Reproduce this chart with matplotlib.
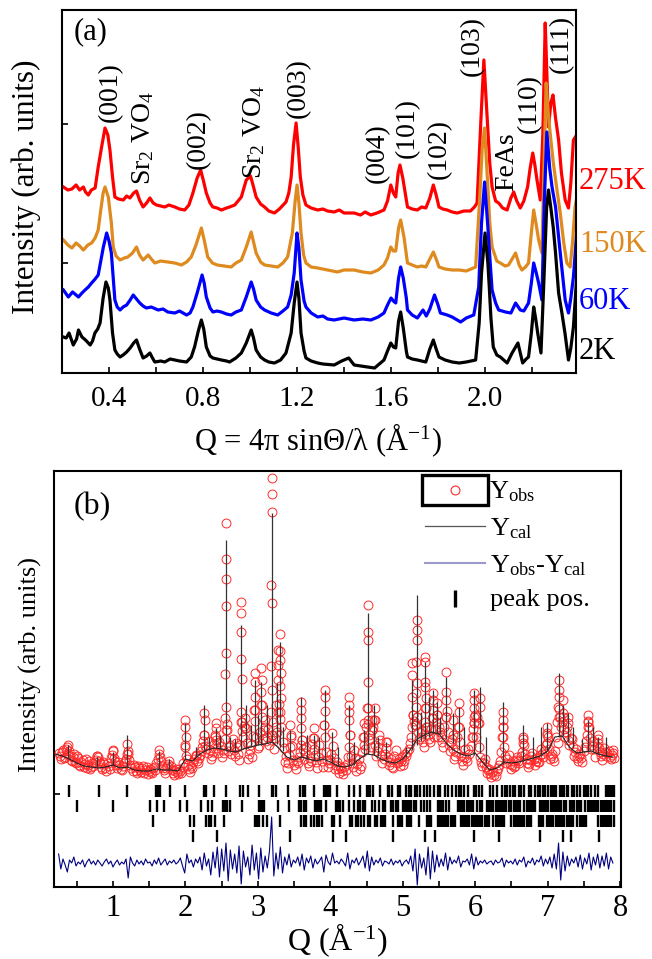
import numpy as np
import matplotlib.pyplot as plt
from matplotlib.patches import Rectangle
from matplotlib.ticker import MultipleLocator, FormatStrFormatter

plt.rcParams['font.family'] = ['Liberation Serif', 'DejaVu Serif']
plt.rcParams['mathtext.fontset'] = 'custom'
plt.rcParams['mathtext.rm'] = 'Liberation Serif'
plt.rcParams['mathtext.it'] = 'Liberation Serif:italic'
plt.rcParams['mathtext.default'] = 'regular'

# ---------------- panel (a): temperature dependent patterns ----------------
trace_275K = [
    (0.206, 186), (0.225, 183), (0.242, 184), (0.26, 188), (0.275, 183), (0.291, 186), (0.30, 181),
    (0.312, 178), (0.325, 183), (0.341, 185), (0.354, 206), (0.37, 228), (0.383, 245), (0.395, 238),
    (0.404, 223), (0.415, 196), (0.425, 176), (0.44, 174), (0.461, 173), (0.475, 177), (0.489, 175),
    (0.505, 180), (0.517, 182), (0.53, 173), (0.545, 166), (0.56, 170), (0.574, 175), (0.588, 170),
    (0.602, 168), (0.62, 167), (0.637, 166), (0.655, 168), (0.68, 166), (0.70, 164), (0.722, 163),
    (0.74, 168), (0.757, 180), (0.775, 195), (0.79, 203), (0.802, 192), (0.814, 180), (0.83, 170),
    (0.842, 166), (0.86, 165), (0.878, 163), (0.90, 165), (0.913, 166), (0.935, 168), (0.963, 176),
    (0.984, 193), (1.002, 197), (1.015, 186), (1.026, 176), (1.045, 169), (1.062, 166), (1.08, 162),
    (1.104, 160), (1.125, 164), (1.153, 171), (1.165, 180), (1.175, 196), (1.185, 228), (1.196, 250),
    (1.205, 226), (1.214, 196), (1.225, 178), (1.238, 168), (1.26, 165), (1.288, 163), (1.31, 164),
    (1.33, 162), (1.358, 161), (1.38, 163), (1.40, 160), (1.443, 160), (1.47, 158), (1.49, 161),
    (1.514, 158), (1.54, 160), (1.57, 163), (1.585, 172), (1.599, 188), (1.61, 180), (1.62, 176),
    (1.63, 200), (1.638, 208), (1.65, 195), (1.67, 166), (1.69, 164), (1.712, 163), (1.73, 166),
    (1.748, 165), (1.765, 175), (1.78, 188), (1.792, 178), (1.804, 166), (1.82, 164), (1.839, 163),
    (1.86, 161), (1.882, 160), (1.91, 162), (1.938, 162), (1.955, 166), (1.966, 170), (1.983, 256),
    (1.995, 313), (2.009, 256), (2.02, 210), (2.03, 186), (2.045, 172), (2.058, 170), (2.075, 165),
    (2.094, 163), (2.11, 175), (2.122, 181), (2.135, 172), (2.15, 165), (2.165, 172), (2.181, 186),
    (2.192, 205), (2.203, 220), (2.212, 208), (2.221, 193), (2.235, 173), (2.246, 240), (2.256, 350),
    (2.263, 300), (2.270, 246), (2.28, 270), (2.289, 278), (2.30, 255), (2.313, 233), (2.325, 200),
    (2.341, 173), (2.355, 165), (2.365, 190), (2.376, 233), (2.39, 238)]

trace_150K = [
    (0.206, 133), (0.225, 128), (0.242, 125), (0.26, 130), (0.275, 127), (0.291, 123), (0.31, 128),
    (0.326, 130), (0.341, 135), (0.354, 143), (0.365, 163), (0.375, 180), (0.383, 186), (0.397, 176),
    (0.41, 150), (0.418, 126), (0.43, 117), (0.447, 113), (0.465, 115), (0.48, 116), (0.50, 120),
    (0.517, 126), (0.53, 118), (0.545, 113), (0.567, 118), (0.58, 114), (0.595, 110), (0.62, 112),
    (0.65, 111), (0.68, 110), (0.708, 108), (0.73, 111), (0.75, 116), (0.77, 128), (0.793, 145),
    (0.805, 133), (0.82, 116), (0.84, 110), (0.86, 108), (0.89, 107), (0.92, 106), (0.94, 110),
    (0.963, 113), (0.984, 126), (1.005, 141), (1.015, 131), (1.026, 120), (1.045, 111), (1.062, 108),
    (1.09, 107), (1.118, 106), (1.14, 110), (1.16, 116), (1.18, 140), (1.192, 172), (1.20, 188),
    (1.208, 170), (1.217, 140), (1.228, 118), (1.238, 110), (1.26, 106), (1.288, 105), (1.33, 103),
    (1.372, 101), (1.40, 103), (1.443, 103), (1.48, 101), (1.514, 100), (1.545, 103), (1.57, 108),
    (1.585, 115), (1.599, 126), (1.61, 122), (1.62, 122), (1.632, 145), (1.641, 153), (1.655, 136),
    (1.67, 110), (1.69, 108), (1.712, 106), (1.73, 107), (1.748, 106), (1.765, 114), (1.78, 121),
    (1.792, 114), (1.804, 106), (1.83, 104), (1.86, 103), (1.89, 103), (1.92, 102), (1.94, 104),
    (1.96, 106), (1.977, 173), (1.988, 225), (1.998, 245), (2.012, 186), (2.02, 150), (2.03, 126),
    (2.05, 112), (2.065, 110), (2.085, 107), (2.10, 108), (2.115, 114), (2.13, 120), (2.145, 108),
    (2.157, 103), (2.172, 106), (2.185, 110), (2.197, 140), (2.207, 163), (2.218, 148), (2.228, 133),
    (2.242, 120), (2.25, 200), (2.26, 290), (2.268, 262), (2.277, 240), (2.29, 211), (2.305, 185),
    (2.32, 160), (2.335, 130), (2.348, 110), (2.362, 106), (2.372, 130), (2.383, 166), (2.39, 175)]

trace_60K = [
    (0.206, 83), (0.227, 76), (0.245, 81), (0.27, 76), (0.285, 80), (0.298, 83), (0.312, 86),
    (0.326, 90), (0.341, 94), (0.354, 98), (0.365, 112), (0.376, 126), (0.39, 140), (0.40, 132),
    (0.41, 120), (0.425, 73), (0.435, 66), (0.447, 63), (0.46, 66), (0.475, 68), (0.49, 73),
    (0.503, 78), (0.517, 74), (0.531, 70), (0.545, 67), (0.559, 65), (0.58, 66), (0.609, 63),
    (0.63, 64), (0.65, 61), (0.68, 60), (0.70, 62), (0.73, 58), (0.745, 60), (0.757, 66), (0.775, 80),
    (0.796, 98), (0.805, 90), (0.814, 76), (0.83, 65), (0.842, 61), (0.86, 62), (0.878, 61), (0.90, 59),
    (0.92, 58), (0.94, 61), (0.963, 63), (0.984, 76), (1.005, 91), (1.015, 84), (1.026, 73),
    (1.045, 66), (1.062, 63), (1.09, 60), (1.118, 58), (1.14, 62), (1.16, 66), (1.175, 78),
    (1.188, 100), (1.20, 140), (1.208, 125), (1.217, 93), (1.23, 72), (1.238, 66), (1.26, 60),
    (1.288, 56), (1.31, 57), (1.33, 54), (1.358, 53), (1.40, 55), (1.443, 53), (1.48, 54), (1.514, 53),
    (1.545, 56), (1.57, 60), (1.585, 68), (1.60, 75), (1.61, 72), (1.62, 70), (1.632, 95), (1.641, 106),
    (1.652, 95), (1.665, 75), (1.67, 63), (1.69, 58), (1.712, 55), (1.736, 63), (1.75, 57), (1.765, 64),
    (1.785, 78), (1.80, 68), (1.81, 60), (1.839, 58), (1.86, 56), (1.896, 51), (1.92, 55), (1.952, 58),
    (1.973, 86), (1.985, 150), (1.998, 191), (2.012, 146), (2.022, 110), (2.03, 83), (2.045, 70),
    (2.058, 63), (2.087, 61), (2.11, 60), (2.13, 70), (2.15, 63), (2.165, 62), (2.185, 70), (2.197, 90),
    (2.207, 110), (2.218, 100), (2.228, 90), (2.242, 73), (2.252, 170), (2.263, 241), (2.275, 205),
    (2.285, 186), (2.30, 166), (2.32, 120), (2.341, 73), (2.355, 60), (2.365, 75), (2.376, 96),
    (2.39, 140)]

trace_2K = [
    (0.206, 36), (0.218, 35), (0.23, 40), (0.248, 28), (0.262, 34), (0.27, 43), (0.285, 36), (0.30, 33),
    (0.32, 28), (0.33, 32), (0.34, 40), (0.352, 44), (0.362, 50), (0.375, 75), (0.387, 91), (0.397, 85),
    (0.404, 73), (0.415, 40), (0.425, 23), (0.435, 19), (0.447, 16), (0.46, 18), (0.475, 21), (0.49, 25),
    (0.505, 30), (0.517, 33), (0.53, 24), (0.545, 15), (0.56, 17), (0.574, 20), (0.585, 15), (0.595, 11),
    (0.62, 12), (0.637, 11), (0.66, 14), (0.68, 13), (0.70, 12), (0.73, 11), (0.75, 16), (0.764, 26),
    (0.78, 42), (0.793, 53), (0.803, 44), (0.814, 26), (0.83, 17), (0.842, 15), (0.86, 14), (0.878, 13),
    (0.90, 12), (0.913, 11), (0.94, 15), (0.963, 20), (0.984, 30), (1.005, 43), (1.015, 35), (1.026, 23),
    (1.045, 16), (1.062, 13), (1.08, 11), (1.104, 10), (1.13, 13), (1.153, 20), (1.175, 40), (1.188, 70),
    (1.20, 91), (1.208, 75), (1.217, 40), (1.23, 22), (1.238, 15), (1.26, 12), (1.288, 10), (1.31, 9),
    (1.358, 8), (1.39, 12), (1.42, 15), (1.443, 8), (1.47, 7), (1.50, 6), (1.53, 5), (1.55, 9),
    (1.57, 13), (1.585, 22), (1.599, 30), (1.61, 26), (1.62, 25), (1.632, 52), (1.641, 61), (1.652, 45),
    (1.665, 22), (1.67, 16), (1.69, 14), (1.712, 13), (1.73, 12), (1.748, 11), (1.765, 24), (1.78, 33),
    (1.792, 24), (1.804, 16), (1.83, 13), (1.86, 11), (1.89, 10), (1.92, 11), (1.96, 13), (1.975, 50),
    (1.985, 100), (2.0, 140), (2.012, 110), (2.018, 86), (2.025, 55), (2.035, 26), (2.05, 18),
    (2.065, 16), (2.094, 10), (2.115, 20), (2.13, 26), (2.14, 30), (2.15, 20), (2.16, 10), (2.175, 14),
    (2.185, 16), (2.197, 40), (2.207, 66), (2.215, 55), (2.224, 40), (2.238, 20), (2.25, 90),
    (2.262, 165), (2.27, 183), (2.28, 165), (2.29, 146), (2.30, 120), (2.313, 80), (2.327, 60),
    (2.34, 40), (2.355, 13), (2.365, 25), (2.376, 46), (2.39, 96)]

temp_labels = ['275K', '150K', '60K', '2K']
temp_colors = ['#ff0000', '#de8a1e', '#0000ff', '#000000']
temp_label_y = [192, 129, 72, 22]

peak_labels = ['(001)', 'Sr$_2$ VO$_4$', '(002)', 'Sr$_2$ VO$_4$', '(003)', '(004)', '(101)',
               '(102)', '(103)', 'FeAs', '(110)', '(111)']
peak_label_q = [0.405, 0.546, 0.779, 1.016, 1.207, 1.542, 1.669, 1.805, 1.945, 2.094, 2.187, 2.323]
peak_label_y = [281, 235, 234, 241, 285, 220, 245, 224, 327, 211, 270, 329]

# ---------------- panel (b): refinement of the 2K pattern ----------------
# observed counts, 0.03 step from Q = 0.25
obs_band = [
    134, 128, 137, 130, 140, 131, 126, 133, 124, 129, 121, 127, 123, 119, 126, 120,
    121, 127, 130, 124, 118, 123, 116, 121, 129, 136, 126, 119, 122, 117, 124, 128,
    133, 122, 116, 120, 114, 119, 115, 121, 117, 113, 118, 114, 120, 124, 133, 126,
    119, 114, 121, 126, 117, 112, 118, 113, 116, 124, 140, 128, 118, 121, 125, 131,
    124, 132, 140, 152, 138, 146, 128, 135, 150, 139, 145, 130, 134, 157, 136, 142,
    148, 131, 140, 127, 165, 150, 159, 128, 137, 130, 177, 150, 141, 182, 148, 160,
    150, 142, 152, 138, 160, 175, 168, 145, 125, 119, 132, 150, 127, 118, 124, 135,
    147, 128, 140, 121, 126, 149, 132, 119, 142, 126, 162, 135, 120, 127, 141, 118,
    125, 114, 119, 113, 117, 130, 152, 124, 137, 116, 128, 121, 150, 138, 179, 147,
    157, 167, 131, 140, 147, 124, 133, 145, 122, 128, 119, 137, 125, 121, 130, 126,
    131, 138, 150, 172, 162, 170, 148, 156, 140, 179, 152, 145, 169, 158, 172, 160,
    150, 140, 170, 155, 136, 148, 128, 135, 160, 131, 122, 138, 126, 133, 150, 164,
    150, 164, 130, 121, 128, 114, 118, 110, 116, 111, 119, 126, 150, 140, 124, 132,
    118, 126, 121, 130, 124, 135, 142, 128, 120, 127, 134, 122, 129, 125, 138, 130,
    142, 150, 128, 133, 126, 150, 178, 160, 170, 150, 160, 142, 148, 131, 138, 126,
    133, 125, 140, 152, 160, 138, 146, 130, 148, 135, 127, 139, 131, 136, 128, 134]

# observed counts at the intermediate points, 0.03 step from Q = 0.265
obs_band_mid = [
    131, 135, 129, 138, 133, 127, 130, 125, 131, 122, 125, 120, 128, 122, 118, 124,
    125, 131, 126, 120, 125, 119, 124, 118, 132, 129, 122, 125, 118, 121, 126, 133,
    127, 119, 122, 116, 121, 117, 119, 114, 120, 116, 115, 119, 117, 128, 130, 121,
    117, 119, 123, 121, 114, 116, 115, 118, 114, 120, 131, 122, 115, 119, 128, 126,
    129, 136, 146, 141, 134, 137, 131, 143, 147, 134, 141, 137, 148, 163, 140, 133,
    137, 144, 133, 142, 156, 161, 144, 133, 142, 151, 166, 139, 155, 170, 157, 146,
    158, 147, 165, 149, 155, 183, 160, 139, 131, 124, 140, 141, 122, 126, 130, 142,
    138, 134, 124, 129, 143, 138, 125, 130, 134, 120, 150, 127, 124, 133, 129, 122,
    118, 121, 116, 120, 123, 140, 131, 120, 129, 123, 118, 135, 142, 160, 163, 140,
    160, 142, 136, 152, 131, 128, 139, 130, 125, 120, 131, 124, 128, 126, 122, 133,
    135, 144, 160, 166, 180, 155, 150, 145, 165, 160, 148, 158, 150, 165, 150, 155,
    145, 160, 176, 142, 145, 138, 131, 150, 145, 126, 130, 129, 138, 141, 158, 172,
    170, 140, 125, 124, 120, 117, 113, 115, 112, 116, 122, 135, 160, 131, 128, 123,
    122, 120, 127, 126, 131, 148, 133, 124, 123, 131, 128, 126, 125, 132, 133, 136,
    152, 138, 131, 129, 136, 165, 170, 165, 158, 155, 147, 149, 140, 135, 129, 131,
    129, 136, 146, 166, 149, 142, 138, 141, 139, 131, 133, 135, 134, 130, 132, 129]

# obs - cal, same grid as obs_band
diff_band = [
    33, 18, 28, 22, 15, 27, 24, 30, 21, 25, 23, 27, 20, 25, 28, 23,
    26, 22, 27, 24, 21, 25, 28, 23, 26, 20, 24, 27, 22, 25, 23, 28,
    9, 30, 24, 21, 27, 23, 26, 22, 28, 24, 25, 21, 27, 23, 29, 22,
    25, 28, 22, 26, 24, 27, 23, 25, 29, 21, 14, 33, 24, 27, 20, 28,
    24, 30, 17, 34, 21, 28, 12, 35, 19, 40, 10, 38, 16, 44, 6, 37,
    18, 33, 14, 41, 3, 36, 20, 30, 12, 42, 17, 34, 8, 39, 15, 31,
    19, 36, 70, 11, 34, 18, 40, 14, 30, 22, 33, 20, 27, 24, 30, 21,
    33, 17, 29, 24, 31, 19, 28, 23, 26, 30, 15, 32, 25, 22, 34, 24,
    26, 23, 28, 25, 21, 34, 18, 27, 24, 29, 22, 26, 31, 19, 36, 16,
    30, 22, 27, 24, 29, 21, 26, 25, 23, 28, 22, 26, 24, 27, 21, 25,
    27, 23, 31, 16, 38, 2, 33, 19, 29, 12, 40, 8, 36, 15, 32, 20,
    28, 21, 34, 17, 30, 23, 27, 24, 31, 20, 26, 25, 28, 22, 33, 18,
    30, 22, 26, 24, 27, 23, 25, 26, 22, 27, 24, 25, 29, 20, 27, 24,
    26, 23, 28, 22, 27, 25, 30, 20, 26, 24, 29, 22, 27, 25, 31, 21,
    28, 23, 30, 19, 33, 18, 44, 7, 35, 16, 31, 21, 28, 24, 30, 20,
    32, 18, 29, 23, 34, 17, 30, 22, 33, 19, 31, 21, 34, 18, 30, 24]

# extra observed points across the sharp reflections
obs_peak_q = [
    0.38, 0.39, 0.78, 1.00, 1.20, 1.21, 1.63, 1.995, 2.0, 2.005, 1.99, 2.14,
    2.26, 2.265, 2.255, 2.42, 2.425, 2.415,
    2.555, 2.558, 2.56, 2.556, 2.562, 2.553, 2.565, 2.55, 2.57,
    2.77, 2.768, 2.772, 2.766, 2.774, 2.764, 2.778, 2.82, 2.825,
    2.96, 2.962, 2.958, 2.965, 3.05, 3.052, 3.048, 3.055, 3.10,
    3.19, 3.19, 3.19, 3.188, 3.192, 3.186, 3.194, 3.184, 3.197, 3.25,
    3.28, 3.282, 3.278, 3.31, 3.312, 3.308, 3.314, 3.306, 3.316, 3.304,
    3.45, 3.452, 3.60, 3.60, 3.602, 3.598, 3.605, 3.77, 3.772,
    3.92, 3.92, 3.922, 3.918, 4.02, 4.26, 4.26, 4.262, 4.258, 4.265,
    4.46, 4.462, 4.52, 4.52, 4.522, 4.518, 4.524, 4.516, 4.527,
    4.58, 4.582, 4.61, 4.612, 4.77,
    5.13, 5.132, 5.128, 5.135, 5.19, 5.19, 5.192, 5.188, 5.194, 5.186, 5.196, 5.184,
    5.31, 5.31, 5.312, 5.308, 5.314, 5.306, 5.316, 5.42, 5.42, 5.422, 5.418, 5.47, 5.472,
    5.60, 5.60, 5.602, 5.598, 5.69, 5.692, 5.77, 5.772, 5.768,
    5.98, 5.98, 5.982, 5.978, 5.985, 5.975, 6.06, 6.062, 6.058,
    6.38, 6.38, 6.382, 6.378, 6.66, 6.662, 6.99, 6.99, 6.992,
    7.15, 7.15, 7.152, 7.148, 7.154, 7.146, 7.21, 7.212, 7.28, 7.282,
    7.56, 7.56, 7.562, 7.69, 7.692, 7.90]
obs_peak_y = [
    142, 136, 131, 137, 143, 136, 137, 167, 160, 150, 142, 132,
    174, 167, 152, 164, 159, 152,
    364, 328, 308, 281, 234, 213, 180, 169, 157,
    285, 274, 255, 228, 208, 175, 165, 169, 159,
    214, 205, 190, 177, 219, 207, 195, 182, 167,
    409, 393, 375, 302, 284, 221, 197, 175, 152, 182,
    237, 222, 207, 253, 236, 227, 214, 201, 189, 175,
    162, 152, 185, 177, 169, 159, 147, 159, 149,
    197, 190, 176, 162, 154, 190, 182, 175, 167, 152,
    164, 150, 282, 255, 247, 205, 179, 167, 152,
    167, 157, 179, 167, 145,
    224, 212, 190, 172, 267, 257, 247, 225, 204, 194, 170, 162,
    230, 225, 205, 200, 189, 179, 160, 194, 187, 177, 169, 184, 172,
    215, 195, 187, 170, 167, 152, 184, 175, 160,
    194, 187, 179, 170, 164, 150, 189, 180, 164,
    175, 167, 160, 150, 150, 144, 160, 154, 144,
    207, 197, 190, 180, 170, 144, 187, 174, 170, 164,
    172, 165, 160, 152, 144, 137]

# calculated background, 0.1 step from Q = 0.2
cal_background = [
    133, 131, 128, 124, 121, 120, 119, 120,
    122, 119, 120, 117, 116, 116, 118, 117, 117, 116,
    128, 126, 133, 137, 139, 138, 136, 135, 138, 140,
    142, 143, 145, 138, 130, 127, 130, 128, 126, 128,
    125, 121, 120, 122, 128, 133, 132, 128, 125, 124,
    128, 137, 148, 152, 155, 153, 144, 137, 133, 131,
    134, 125, 117, 119, 125, 124, 125, 127, 129, 131,
    136, 150, 151, 140, 134, 135, 136, 133, 131, 130]

# calculated reflection profiles: position, top, foot
cal_peak_q = [0.38, 0.78, 1.00, 1.20, 1.63, 1.78, 2.00, 2.14, 2.26, 2.33, 2.42, 2.48, 2.56, 2.62,
              2.68, 2.77, 2.83, 2.90, 2.96, 3.00, 3.05, 3.13, 3.19, 3.27, 3.31, 3.35, 3.45, 3.60,
              3.68, 3.77, 3.85, 3.92, 4.02, 4.10, 4.26, 4.32, 4.46, 4.52, 4.60, 4.66, 4.77, 5.05,
              5.13, 5.19, 5.25, 5.31, 5.36, 5.42, 5.47, 5.52, 5.60, 5.69, 5.77, 5.85, 5.98, 6.06,
              6.15, 6.38, 6.66, 6.80, 6.91, 6.99, 7.15, 7.21, 7.28, 7.35, 7.47, 7.56, 7.63, 7.69,
              7.80]
cal_peak_top = [142, 130, 135, 152, 136, 128, 164, 140, 182, 150, 159, 152, 347, 150,
                148, 262, 182, 162, 207, 172, 205, 182, 374, 204, 245, 160, 157, 190,
                152, 152, 150, 197, 155, 140, 182, 145, 157, 274, 182, 150, 145, 140,
                207, 292, 175, 225, 190, 197, 185, 170, 210, 174, 180, 160, 197, 200,
                150, 185, 162, 150, 160, 164, 214, 182, 174, 160, 148, 167, 160, 150,
                150]
cal_peak_foot = [128, 120, 122, 120, 117, 117, 128, 131, 137, 138, 139, 138, 136, 136,
                 135, 137, 138, 140, 141, 142, 142, 144, 144, 143, 140, 136, 128, 129,
                 128, 127, 127, 128, 125, 121, 121, 122, 131, 133, 132, 131, 128, 130,
                 137, 142, 146, 148, 150, 153, 154, 153, 148, 144, 137, 134, 132, 134,
                 124, 123, 126, 128, 131, 136, 150, 151, 145, 140, 135, 136, 135, 133,
                 131]

# reflection markers, one row per phase
refl_main = [0.39, 0.81, 1.20, 1.60, 1.62, 1.65, 1.79, 1.99, 2.26, 2.28, 2.39, 2.56, 2.76, 2.80,
             2.87, 3.02, 3.19, 3.21, 3.25, 3.41, 3.58, 3.62, 3.65, 3.77, 3.91, 3.94, 3.97, 4.00,
             4.09, 4.26, 4.32, 4.41, 4.51, 4.53, 4.55, 4.59, 4.68, 4.79, 4.81, 4.85, 4.93, 4.96,
             5.05, 5.08, 5.12, 5.17, 5.20, 5.24, 5.29, 5.33, 5.38, 5.43, 5.48, 5.52, 5.58, 5.63,
             5.68, 5.74, 5.78, 5.81, 5.84, 5.90, 5.98, 6.01, 6.05, 6.09, 6.21, 6.25, 6.30, 6.37,
             6.41, 6.44, 6.48, 6.52, 6.55, 6.60, 6.63, 6.67, 6.74, 6.77, 6.83, 6.86, 6.90, 6.93,
             6.96, 7.01, 7.04, 7.07, 7.10, 7.12, 7.17, 7.20, 7.23, 7.26, 7.28, 7.34, 7.37, 7.40,
             7.44, 7.50, 7.53, 7.56, 7.60, 7.66, 7.70, 7.80, 7.83, 7.86, 7.89, 7.92]
refl_second = [0.50, 1.00, 1.51, 1.61, 1.70, 1.93, 2.02, 2.22, 2.31, 2.36, 2.52, 2.55, 2.58, 2.62,
               2.78, 3.02, 3.04, 3.06, 3.08, 3.28, 3.43, 3.57, 3.60, 3.63, 3.67, 3.79, 3.81, 3.84,
               3.87, 3.94, 4.08, 4.11, 4.14, 4.18, 4.26, 4.32, 4.38, 4.41, 4.45, 4.48, 4.58, 4.61,
               4.67, 4.73, 4.76, 4.84, 4.86, 4.90, 4.93, 5.00, 5.03, 5.06, 5.09, 5.12, 5.15, 5.18,
               5.25, 5.29, 5.34, 5.37, 5.48, 5.51, 5.54, 5.56, 5.60, 5.64, 5.76, 5.79, 5.82, 5.85,
               5.88, 5.91, 5.94, 5.97, 6.02, 6.06, 6.10, 6.16, 6.19, 6.22, 6.25, 6.28, 6.31, 6.34,
               6.37, 6.40, 6.43, 6.47, 6.50, 6.53, 6.56, 6.59, 6.62, 6.68, 6.71, 6.74, 6.77, 6.80,
               6.83, 6.89, 6.92, 6.95, 6.98, 7.01, 7.04, 7.07, 7.10, 7.13, 7.16, 7.19, 7.22, 7.25,
               7.31, 7.34, 7.37, 7.40, 7.43, 7.46, 7.52, 7.55, 7.58, 7.61, 7.64, 7.67, 7.70, 7.73,
               7.76, 7.79, 7.82, 7.85, 7.88, 7.91]
refl_third = [1.55, 2.07, 2.12, 2.29, 2.32, 2.35, 2.41, 2.53, 2.96, 2.99, 3.02, 3.07, 3.12, 3.31,
              3.60, 3.63, 3.66, 3.74, 3.78, 3.81, 3.85, 3.88, 4.02, 4.05, 4.13, 4.27, 4.30, 4.35,
              4.38, 4.43, 4.47, 4.52, 4.55, 4.61, 4.64, 4.70, 4.73, 4.76, 4.86, 4.93, 4.96, 4.99,
              5.06, 5.09, 5.12, 5.22, 5.33, 5.36, 5.39, 5.48, 5.51, 5.54, 5.57, 5.60, 5.63, 5.66,
              5.69, 5.72, 5.80, 5.83, 5.86, 5.89, 5.92, 5.95, 5.98, 6.01, 6.04, 6.07, 6.10, 6.13,
              6.16, 6.19, 6.25, 6.28, 6.31, 6.34, 6.37, 6.40, 6.50, 6.53, 6.56, 6.59, 6.62, 6.65,
              6.68, 6.71, 6.74, 6.77, 6.88, 6.91, 6.94, 6.99, 7.02, 7.05, 7.08, 7.11, 7.14, 7.17,
              7.20, 7.23, 7.26, 7.29, 7.32, 7.35, 7.41, 7.44, 7.47, 7.50, 7.53, 7.70, 7.73, 7.76,
              7.79, 7.82, 7.85, 7.88, 7.91]
refl_fourth = [2.11, 2.44, 3.44, 4.04, 4.22, 4.87, 5.31, 5.45, 5.98, 6.33, 6.89, 7.21, 7.32, 7.71]


fig = plt.figure(figsize=(6.52, 9.59), dpi=100)

# ---- (a) ----
ax1 = fig.add_axes([62 / 652, 1 - 373 / 959, 514 / 652, 363 / 959])
traces = [trace_275K, trace_150K, trace_60K, trace_2K]
for tr, col in zip(traces, temp_colors):
    q, y = np.array(tr).T
    ax1.plot(q, y, color=col, lw=2.3, solid_joinstyle='round')

for lab, col, yl in zip(temp_labels, temp_colors, temp_label_y):
    ax1.text(2.40, yl, lab, color=col, fontsize=22, ha='left', va='center', clip_on=False)

for lab, q, yl in zip(peak_labels, peak_label_q, peak_label_y):
    ax1.text(q, yl, lab, rotation=90, fontsize=20, ha='center', va='center')

ax1.text(0.321, 341, '(a)', fontsize=22, ha='center', va='center')

ax1.set_xlim(0.2, 2.387)
ax1.set_ylim(0, 363)
ax1.xaxis.set_major_locator(MultipleLocator(0.4))
ax1.xaxis.set_minor_locator(MultipleLocator(0.2))
ax1.xaxis.set_major_formatter(FormatStrFormatter('%.1f'))
ax1.set_yticks([110, 249])
ax1.tick_params(axis='both', which='both', direction='in', length=4.5, width=1.2,
                top=False, right=False, labelleft=False, labelsize=21, pad=9)
for sp in ax1.spines.values():
    sp.set_linewidth(1.5)

fig.text(318 / 652, 1 - 440 / 959, 'Q = 4π sinΘ/λ (Å$^{-1}$)', fontsize=22,
         ha='center', va='center')
fig.text(26 / 652, 1 - 187 / 959, 'Intensity (arb. units)', fontsize=22.5, rotation=90,
         ha='center', va='center')

# ---- (b) ----
ax2 = fig.add_axes([54 / 652, 1 - 887 / 959, 567 / 652, 416 / 959])

grid_q = 0.25 + 0.03 * np.arange(len(obs_band))
mid_q = 0.265 + 0.03 * np.arange(len(obs_band_mid))
cal_q = 0.2 + 0.1 * np.arange(len(cal_background))

ax2.plot(grid_q, diff_band, color='#000080', lw=0.8, zorder=2)

all_q = np.concatenate([grid_q, mid_q, obs_peak_q])
all_y = np.concatenate([obs_band, obs_band_mid, obs_peak_y])
ax2.plot(all_q, all_y, ls='none', marker='o', ms=6.4, mfc='none', mec='#ff2a2a',
         mew=0.7, zorder=3)

ax2.plot(cal_q, cal_background, color='#222222', lw=0.8, zorder=4)
ax2.vlines(cal_peak_q, cal_peak_foot, cal_peak_top, color='#333333', lw=0.9, zorder=4)

for row, (lo, hi) in zip([refl_main, refl_second, refl_third, refl_fourth],
                         [(90, 102), (75, 87), (60, 72), (45, 57)]):
    ax2.vlines(row, lo, hi, color='black', lw=1.7, zorder=4)

ax2.set_xlim(0.186, 8.012)
ax2.set_ylim(0, 416)
ax2.xaxis.set_major_locator(MultipleLocator(1))
ax2.xaxis.set_minor_locator(MultipleLocator(0.5))
ax2.xaxis.set_major_formatter(FormatStrFormatter('%d'))
ax2.set_yticks([93])
ax2.tick_params(axis='both', which='both', direction='in', length=4.5, width=1.2,
                top=False, right=False, labelleft=False, labelsize=22, pad=5)
for sp in ax2.spines.values():
    sp.set_linewidth(1.5)

ax2.text(0.711, 380, '(b)', fontsize=23, ha='center', va='center')

# legend drawn by hand
ax2.add_patch(Rectangle((5.265, 382), 0.911, 30, fill=False, lw=2.4, ec='black', zorder=6))
ax2.plot([5.72], [397], ls='none', marker='o', ms=6.4, mfc='none', mec='#ff2a2a', mew=0.8,
         zorder=6)
ax2.text(6.19, 389, 'Y$_{obs}$', fontsize=19, ha='left', va='baseline')
ax2.plot([5.31, 6.14], [361, 361], color='#555555', lw=0.9)
ax2.text(6.21, 352, 'Y$_{cal}$', fontsize=19, ha='left', va='baseline')
ax2.plot([5.31, 6.14], [324, 324], color='#9a9acd', lw=1.5)
ax2.text(6.21, 315, 'Y$_{obs}$-Y$_{cal}$', fontsize=19, ha='left', va='baseline')
ax2.vlines([5.72], 280, 297, color='black', lw=2.4)
ax2.text(6.21, 281, 'peak pos.', fontsize=19, ha='left', va='baseline')

fig.text(337 / 652, 1 - 940 / 959, 'Q (Å$^{-1}$)', fontsize=23, ha='center', va='center')
fig.text(30 / 652, 1 - 664 / 959, 'Intensity (arb. units)', fontsize=19, rotation=90,
         ha='center', va='center')

fig.savefig('out.png', dpi=100)
